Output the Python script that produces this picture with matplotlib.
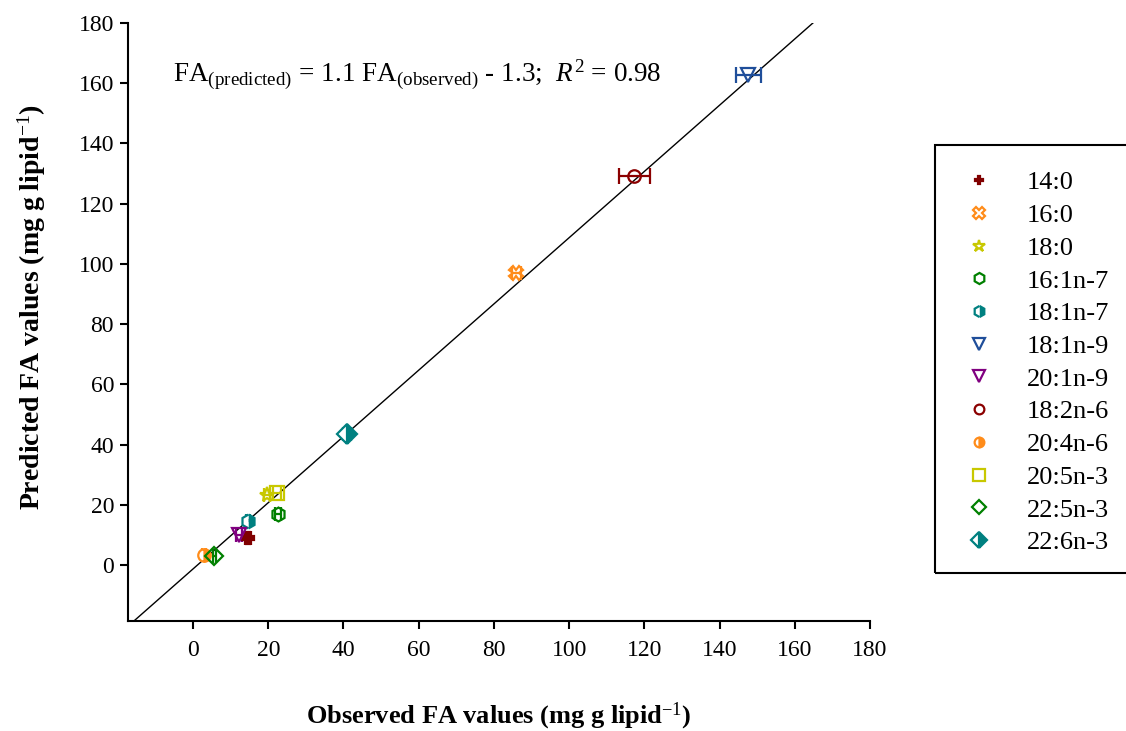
import matplotlib
matplotlib.use('Agg')
import matplotlib.pyplot as plt
from matplotlib.patches import Rectangle
import numpy as np

plt.rcParams['font.family'] = ['Liberation Serif', 'DejaVu Serif']
plt.rcParams['mathtext.fontset'] = 'custom'
plt.rcParams['mathtext.rm'] = 'Liberation Serif'
plt.rcParams['mathtext.it'] = 'Liberation Serif:italic'
plt.rcParams['mathtext.bf'] = 'Liberation Serif:bold'

# fatty acids: observed vs predicted (mg g lipid-1)
labels = ['14:0', '16:0', '18:0', '16:1n-7', '18:1n-7', '18:1n-9',
          '20:1n-9', '18:2n-6', '20:4n-6', '20:5n-3', '22:5n-3', '22:6n-3']
observed = [14.7, 85.9, 19.7, 22.6, 14.6, 147.6, 12.2, 117.3, 3.0, 22.3, 5.7, 41.0]
predicted = [9.0, 97.0, 23.2, 16.9, 14.7, 162.7, 10.0, 129.2, 3.3, 23.9, 3.0, 43.5]
obs_err = [0.8, 1.2, 0.8, 0.8, 0.5, 3.3, 0.8, 4.1, 0.5, 1.0, 0.3, 1.0]

markers = ['P', 'X', '*', 'h', 'h', 'v', 'v', 'o', 'o', 's', 'D', 'D']
colors = ['#800000', '#FF8C1A', '#C8C800', '#008000', '#008080', '#1F4E9A',
          '#800080', '#8B0000', '#FF8C1A', '#C8C800', '#008000', '#008080']
fills = ['full', 'none', 'none', 'none', 'right', 'none', 'none', 'none',
         'right', 'none', 'none', 'right']
sizes = [8, 10, 11, 10, 10, 10, 10, 9, 9, 10, 9, 10]

slope, intercept = 1.1, -1.3

fig = plt.figure(figsize=(11.26, 7.31), dpi=100)
ax = fig.add_axes([128 / 1126, 110 / 731, 742 / 1126, 598 / 731])

xl = np.array([-20, 200])
ax.plot(xl, slope * xl + intercept, color='black', lw=1, zorder=1)

handles = []
for i in range(len(labels)):
    fs = fills[i]
    mfc = 'none' if fs == 'none' else colors[i]
    ax.errorbar(observed[i], predicted[i], xerr=obs_err[i], fmt=markers[i],
                color=colors[i], mec=colors[i], mfc=mfc, fillstyle=fs,
                markerfacecoloralt='white', ms=sizes[i], mew=1.6,
                elinewidth=1.6, capsize=6 if obs_err[i] > 2 else 5,
                capthick=1.6, zorder=3)
    h, = ax.plot([], [], markers[i], color=colors[i], mec=colors[i], mfc=mfc,
                 fillstyle=fs, markerfacecoloralt='white', ms=sizes[i] - 2,
                 mew=1.6, label=labels[i])
    handles.append(h)

ax.set_xlim(-17.3, 180)
ax.set_ylim(-18.6, 180)
ax.set_xticks(np.arange(0, 181, 20))
ax.set_yticks(np.arange(0, 181, 20))
ax.spines['top'].set_visible(False)
ax.spines['right'].set_visible(False)
ax.spines['left'].set_linewidth(1.5)
ax.spines['bottom'].set_linewidth(1.5)
ax.tick_params(direction='out', length=6, width=1.5, labelsize=17)
ax.tick_params(axis='y', pad=4)
ax.tick_params(axis='x', pad=8)

ax.set_xlabel('Observed FA values (mg g lipid$^{-1}$)', fontsize=19,
              fontweight='bold', labelpad=28)
ax.set_ylabel('Predicted FA values (mg g lipid$^{-1}$)', fontsize=20,
              fontweight='bold')
ax.yaxis.set_label_coords(-0.108, 0.525)

ax.text(45 / 742, 0.913,
        r'FA$_{\mathrm{(predicted)}}$ = 1.1 FA$_{\mathrm{(observed)}}$ - 1.3;  $R^2$ = 0.98',
        transform=ax.transAxes, fontsize=19.5, va='center', ha='left')

fig.patches.append(Rectangle((935 / 1126, 158 / 731), 0.2, 428 / 731,
                             transform=fig.transFigure, fill=False,
                             edgecolor='black', lw=1.5))
fig.legend(handles=handles, loc='upper left',
           bbox_to_anchor=(961 / 1126, (731 - 171) / 731), frameon=False,
           borderpad=0, borderaxespad=0, fontsize=19, labelspacing=0.35,
           handlelength=1.4, handletextpad=1.1)

fig.savefig('out.png', dpi=100)
